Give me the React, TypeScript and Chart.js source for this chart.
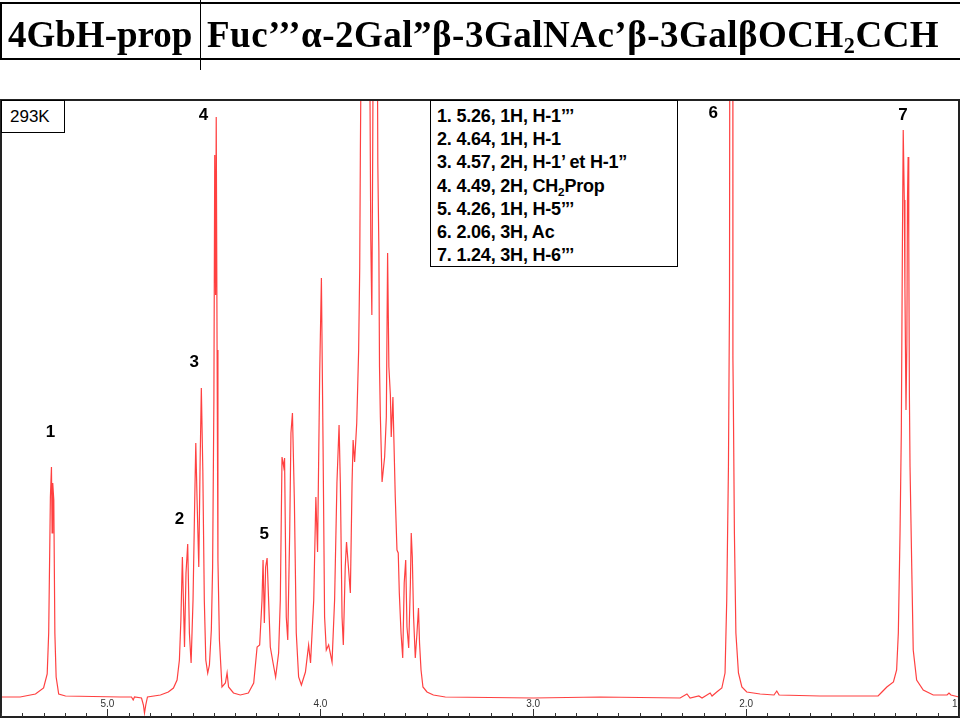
import { useEffect, useRef } from 'react';
import { Chart, registerables } from 'chart.js';

Chart.register(...registerables);

// 1H spectrum: chemical shift (ppm) and intensity (a.u., baseline 0)
const shiftPpm = [
  5.5, 5.41, 5.338, 5.3, 5.283, 5.276, 5.268, 5.263, 5.26, 5.257, 5.252, 5.247, 5.241, 5.229, 5.197,
  4.939, 4.887, 4.879, 4.873, 4.84, 4.831, 4.826, 4.82, 4.812, 4.751, 4.714, 4.69, 4.673, 4.662, 4.655,
  4.648, 4.638, 4.631, 4.623, 4.615, 4.607, 4.598, 4.59, 4.585, 4.579, 4.571, 4.565, 4.559, 4.552, 4.545,
  4.538, 4.529, 4.521, 4.512, 4.506, 4.5, 4.496, 4.492, 4.489, 4.485, 4.481, 4.474, 4.462, 4.446, 4.438,
  4.431, 4.408, 4.376, 4.338, 4.313, 4.297, 4.285, 4.274, 4.269, 4.263, 4.257, 4.25, 4.243, 4.235, 4.222,
  4.21, 4.196, 4.188, 4.18, 4.172, 4.168, 4.16, 4.153, 4.144, 4.138, 4.131, 4.122, 4.113, 4.102, 4.089,
  4.07, 4.055, 4.046, 4.031, 4.021, 4.013, 4.003, 3.995, 3.987, 3.98, 3.972, 3.961, 3.945, 3.933, 3.922,
  3.912, 3.906, 3.898, 3.892, 3.883, 3.877, 3.867, 3.859, 3.851, 3.846, 3.839, 3.829, 3.82, 3.815, 3.812,
  3.805, 3.793, 3.779, 3.768, 3.763, 3.758, 3.754, 3.749, 3.742, 3.735, 3.73, 3.725, 3.722, 3.718, 3.71,
  3.698, 3.69, 3.684, 3.678, 3.671, 3.667, 3.659, 3.655, 3.648, 3.64, 3.634, 3.629, 3.621, 3.613, 3.606,
  3.599, 3.593, 3.585, 3.577, 3.573, 3.568, 3.562, 3.554, 3.546, 3.539, 3.534, 3.527, 3.518, 3.499, 3.469,
  3.413, 3.0, 2.685, 2.31, 2.278, 2.263, 2.222, 2.207, 2.169, 2.16, 2.138, 2.114, 2.099, 2.091, 2.083,
  2.078, 2.073, 2.063, 2.062, 2.06, 2.055, 2.048, 2.036, 2.02, 1.997, 1.934, 1.869, 1.856, 1.845, 1.653,
  1.465, 1.38, 1.362, 1.339, 1.308, 1.293, 1.285, 1.277, 1.271, 1.266, 1.262, 1.257, 1.254, 1.249, 1.245,
  1.242, 1.239, 1.236, 1.233, 1.23, 1.222, 1.215, 1.199, 1.168, 1.121, 1.056, 1.047, 1.038, 1.0,
];
const intensity = [
  0, 0, 3, 9, 23, 64, 200, 230, 164, 214, 197, 64, 20, 3, 1,
  0, 0, -3, 0, -1, -8, -16, -8, 0, 2, 5, 9, 17, 37, 77,
  140, 50, 124, 153, 64, 34, 97, 197, 254, 197, 130, 230, 309, 227, 97,
  37, 24, 32, 67, 130, 297, 542, 402, 580, 347, 137, 57, 10, 14, 24,
  10, 4, 2, 4, 14, 50, 52, 97, 137, 74, 130, 139, 97, 50, 34,
  20, 44, 97, 240, 230, 239, 80, 57, 164, 264, 284, 197, 64, 20, 12,
  25, 52, 34, 97, 200, 145, 324, 419, 247, 80, 47, 52, 35, 97, 214,
  272, 214, 80, 52, 130, 155, 127, 104, 214, 257, 235, 274, 347, 429, 542,
  750, 900, 850, 650, 457, 382, 547, 800, 700, 820, 534, 447, 330, 280, 215,
  240, 280, 444, 330, 302, 260, 300, 262, 200, 147, 144, 104, 64, 39, 114,
  137, 70, 49, 114, 164, 140, 80, 39, 64, 89, 54, 27, 10, 5, 2,
  0, -1, 0, -1, 3, -1, 1, -1, 4, 1, 5, 9, 24, 97, 230,
  397, 1400, 1400, 339, 297, 164, 64, 24, 10, 5, 3, 2, 6, 2, 1,
  1, 1, 5, 10, 15, 27, 64, 164, 264, 447, 567, 497, 409, 287, 352,
  497, 540, 459, 302, 230, 130, 47, 17, 7, 2, 2, 4, 2, 0,
];

// numbered peak markers
const peakNumbers = ['1', '2', '3', '4', '5', '6', '7'];
const peakLabelPpm = [5.268, 4.662, 4.592, 4.549, 4.263, 2.155, 1.263];
const peakLabelHeight = [265, 178, 335, 582, 163, 584, 582];

// assignment table
const assignShift = ['5.26', '4.64', '4.57', '4.49', '4.26', '2.06', '1.24'];
const assignProtons = ['1H', '1H', '2H', '2H', '1H', '3H', '3H'];
const assignGroup = ['H-1’’’', 'H-1', 'H-1’ et H-1”', 'CH₂Prop', 'H-5’’’', 'Ac', 'H-6’’’'];

// ppm axis
const axisValues = [5, 4, 3, 2, 1];
const axisLabels = ['5.0', '4.0', '3.0', '2.0', '1.0'];

const SANS = '"Liberation Sans", Arial, sans-serif';
const SERIF = '"Liberation Serif", "Times New Roman", serif';

const framePlugin = {
  id: 'frame',
  afterDatasetsDraw(chart: any) {
    const { ctx, chartArea: a } = chart;
    const x = chart.scales.x;
    const y = chart.scales.y;
    ctx.save();
    ctx.strokeStyle = '#222';
    ctx.lineWidth = 2;
    ctx.strokeRect(a.left, a.top, a.right - a.left, a.bottom - a.top);

    // ticks point up into the plot
    ctx.lineWidth = 1;
    ctx.strokeStyle = '#333';
    for (let i = 10; i <= 55; i++) {
      const px = Math.round(x.getPixelForValue(i / 10)) + 0.5;
      const len = i % 10 === 0 ? 8 : 4;
      ctx.beginPath();
      ctx.moveTo(px, a.bottom);
      ctx.lineTo(px, a.bottom - len);
      ctx.stroke();
    }
    ctx.fillStyle = '#333';
    ctx.font = `10px ${SANS}`;
    ctx.textAlign = 'center';
    ctx.textBaseline = 'bottom';
    axisValues.forEach((v, i) => ctx.fillText(axisLabels[i], x.getPixelForValue(v), a.bottom - 8));

    ctx.fillStyle = '#000';
    ctx.font = `bold 17px ${SANS}`;
    ctx.textBaseline = 'middle';
    peakNumbers.forEach((n, i) =>
      ctx.fillText(n, x.getPixelForValue(peakLabelPpm[i]), y.getPixelForValue(peakLabelHeight[i]))
    );
    ctx.restore();
  },
};

function withSub(s: string) {
  const parts = s.split('₂');
  if (parts.length === 1) return s;
  return (
    <>
      {parts[0]}
      <sub style={{ fontSize: '0.65em', verticalAlign: '-0.3em', lineHeight: 0 }}>2</sub>
      {parts[1]}
    </>
  );
}

const App = () => {
  const canvasRef = useRef<HTMLCanvasElement | null>(null);

  useEffect(() => {
    const ctx = canvasRef.current!.getContext('2d')!;
    const chart = new Chart(ctx, {
      type: 'line',
      data: {
        datasets: [
          {
            data: shiftPpm.map((v, i) => ({ x: v, y: intensity[i] })),
            borderColor: 'rgba(255, 0, 0, 0.75)',
            borderWidth: 1.2,
            pointRadius: 0,
            tension: 0,
            fill: false,
          },
        ],
      },
      options: {
        responsive: false,
        animation: false,
        layout: { padding: { top: 100, left: 1, right: 1, bottom: 3 } },
        plugins: { legend: { display: false }, tooltip: { enabled: false } },
        scales: {
          x: { type: 'linear', reverse: true, min: 1.0, max: 5.5, display: false },
          y: { type: 'linear', min: -20, max: 597, display: false },
        },
      },
      plugins: [framePlugin],
    });
    return () => {
      chart.destroy();
    };
  }, []);

  return (
    <div
      style={{
        position: 'absolute',
        left: 0,
        top: 0,
        width: 960,
        height: 720,
        overflow: 'hidden',
        background: '#fff',
      }}
    >
      <canvas ref={canvasRef} width={960} height={720} style={{ position: 'absolute', left: 0, top: 0 }} />

      {/* title bar */}
      <div
        style={{
          position: 'absolute',
          left: 0,
          top: 2,
          width: 980,
          height: 58,
          boxSizing: 'border-box',
          borderTop: '2px solid #000',
          borderBottom: '2px solid #000',
          borderLeft: '2px solid #000',
        }}
      />
      <div style={{ position: 'absolute', left: 200, top: 0, width: 1, height: 70, background: '#000' }} />
      <div
        style={{
          position: 'absolute',
          left: 8,
          top: 16,
          font: `bold 37px/37px ${SERIF}`,
          whiteSpace: 'nowrap',
        }}
      >
        4GbH-prop
      </div>
      <div
        style={{
          position: 'absolute',
          left: 207,
          top: 16,
          font: `bold 37px/37px ${SERIF}`,
          letterSpacing: '0.5px',
          whiteSpace: 'nowrap',
        }}
      >
        Fuc’’’α-2Gal”β-3GalNAc’β-3GalβOCH
        <sub style={{ fontSize: '0.6em', verticalAlign: '-0.25em', lineHeight: 0 }}>2</sub>
        CCH
      </div>

      {/* temperature box */}
      <div
        style={{
          position: 'absolute',
          left: 1,
          top: 100,
          width: 64,
          height: 33,
          boxSizing: 'border-box',
          border: '1px solid #000',
          font: `17px/31px ${SANS}`,
          paddingLeft: 8,
          background: '#fff',
        }}
      >
        293K
      </div>

      {/* assignment box */}
      <div
        style={{
          position: 'absolute',
          left: 430,
          top: 100,
          width: 248,
          height: 167,
          boxSizing: 'border-box',
          border: '1.5px solid #000',
          background: '#fff',
          padding: '4px 0 0 6px',
          font: `bold 18px/23.2px ${SANS}`,
          letterSpacing: '-0.2px',
          whiteSpace: 'nowrap',
        }}
      >
        {assignShift.map((s, i) => (
          <div key={i}>
            {i + 1}. {s}, {assignProtons[i]}, {withSub(assignGroup[i])}
          </div>
        ))}
      </div>
    </div>
  );
};

export default App;
